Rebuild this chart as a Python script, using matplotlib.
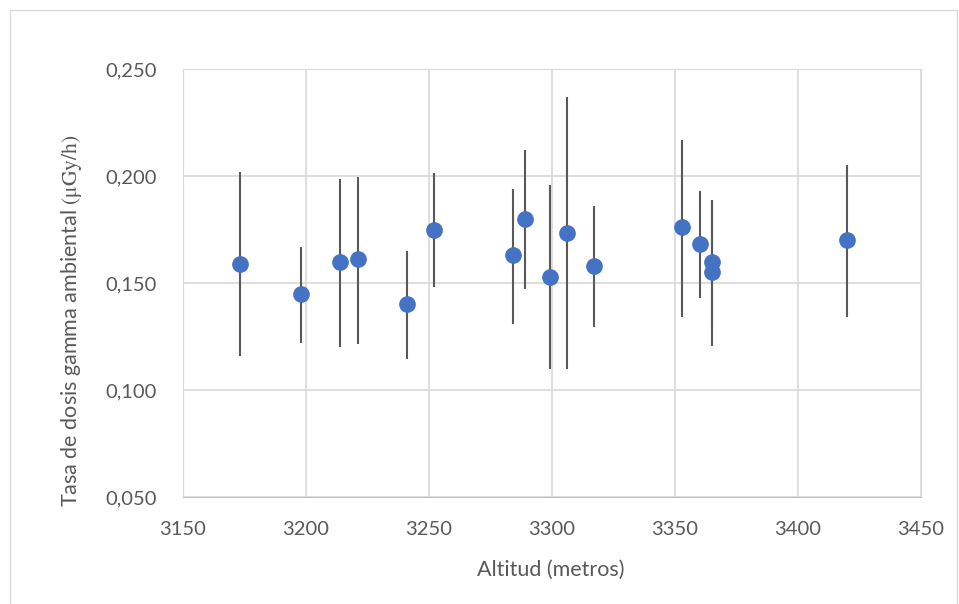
import matplotlib
matplotlib.use("Agg")
import numpy as np
from matplotlib import pyplot as plt
from matplotlib.patches import Rectangle
from matplotlib.ticker import FuncFormatter

# datos
altitud = [3173, 3198, 3214, 3221, 3241, 3252, 3284, 3289, 3299, 3306,
           3317, 3353, 3360, 3365, 3365, 3420]
tasa = [0.159, 0.145, 0.160, 0.161, 0.140, 0.175, 0.163, 0.180, 0.153, 0.1735,
        0.158, 0.176, 0.168, 0.160, 0.155, 0.170]
tasa_max = [0.202, 0.167, 0.1985, 0.1995, 0.165, 0.2015, 0.194, 0.212, 0.196, 0.237,
            0.186, 0.217, 0.193, 0.189, 0.189, 0.205]
tasa_min = [0.116, 0.122, 0.120, 0.1215, 0.1145, 0.148, 0.131, 0.147, 0.110, 0.110,
            0.1295, 0.134, 0.143, 0.1295, 0.1205, 0.134]

x_ticks = [3150, 3200, 3250, 3300, 3350, 3400, 3450]
y_ticks = [0.050, 0.100, 0.150, 0.200, 0.250]

plt.rcParams['font.family'] = ['Lato', 'DejaVu Sans']
plt.rcParams['mathtext.fontset'] = 'stix'

fig = plt.figure(figsize=(9.59, 6.04), dpi=100)
ax = fig.add_axes([183 / 959, 1 - 497 / 604, 738 / 959, 428 / 604])

# marco del area del grafico
fig.patches.append(Rectangle((10 / 959, -0.05), 947 / 959, 1.05 - 10 / 604,
                             transform=fig.transFigure, fill=False,
                             edgecolor='#D9D9D9', linewidth=1.0))

y = np.array(tasa)
err = [y - np.array(tasa_min), np.array(tasa_max) - y]
ax.errorbar(altitud, tasa, yerr=err, fmt='none', ecolor='#595959',
            elinewidth=1.5, capsize=0, zorder=2)
ax.plot(altitud, tasa, 'o', color='#4472C4', markersize=11, zorder=3)

ax.set_xlim(3150, 3450)
ax.set_ylim(0.050, 0.250)
ax.set_xticks(x_ticks)
ax.set_yticks(y_ticks)
ax.yaxis.set_major_formatter(FuncFormatter(lambda v, p: f"{v:.3f}".replace('.', ',')))
ax.grid(True, color='#D9D9D9', linewidth=1.2)
ax.set_axisbelow(True)
for s in ax.spines.values():
    s.set_color('#D9D9D9')
ax.spines['bottom'].set_color('#BFBFBF')
ax.tick_params(length=0, labelsize=14.5, colors='#595959', pad=17)
ax.tick_params(axis='y', pad=19)

fig.text(551 / 959, 1 - 570 / 604, 'Altitud (metros)', ha='center', va='center',
         fontsize=15.5, color='#595959')
fig.text(72 / 959, 1 - 321 / 604, r'Tasa de dosis gamma ambiental $\mathrm{(\mu Gy/h)}$',
         rotation=90, ha='center', va='center', fontsize=15.5, color='#595959')

fig.savefig('out.png', dpi=100)
